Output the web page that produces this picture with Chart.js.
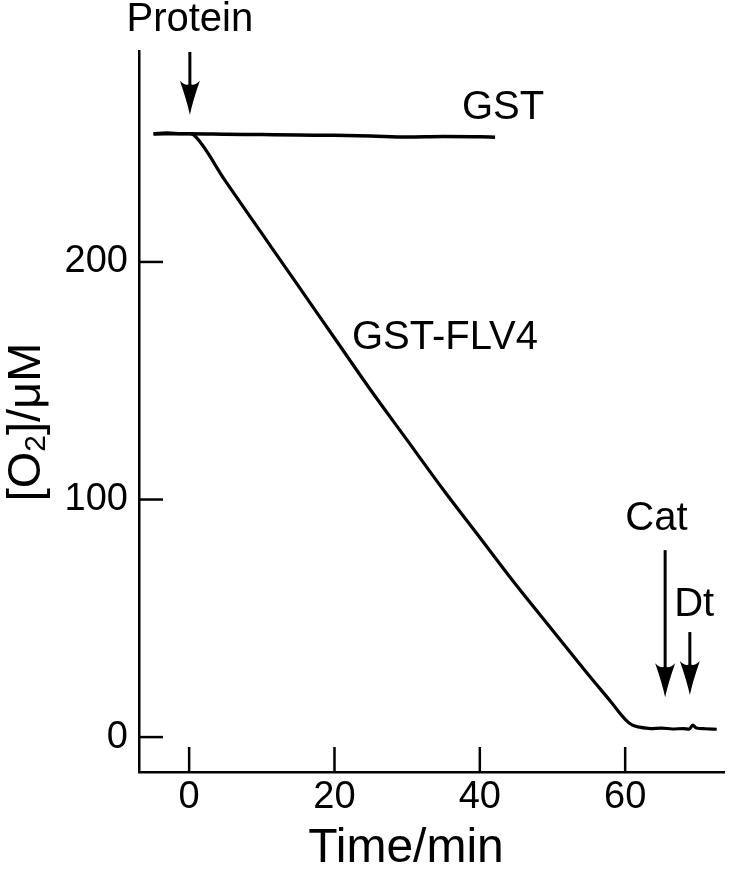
<!DOCTYPE html>
<html>
<head>
<meta charset="utf-8">
<script src="https://cdn.jsdelivr.net/npm/chart.js@4.4.0/dist/chart.umd.min.js"></script>
<style>
  html, body { margin: 0; padding: 0; background: #fff; }
  #wrap { width: 730px; height: 870px; }
</style>
</head>
<body>
<div id="wrap"><canvas id="o2Chart" width="730" height="870"></canvas></div>
<script>
// time in min, [O2] in uM
var flvTime = [-4.9, -3, -1, 0, 0.6, 5, 10, 15, 20, 25, 30, 35, 40, 45, 50, 55, 58, 60, 61, 62, 63.5, 65, 66.5, 68, 68.8, 69.3, 69.8, 71, 72.6];
var flvO2   = [254, 254.3, 254, 254, 253.5, 234, 212, 190, 168, 146, 125, 104, 84, 64, 45, 26, 15, 7.5, 5, 4.2, 3.6, 3.8, 3.4, 3.6, 3.3, 5.0, 3.8, 3.5, 3.3];

var gstTime = [-4.9, 0, 5, 10, 15, 20, 25, 30, 35, 40, 42.1];
var gstO2   = [253.9, 254, 253.8, 253.6, 253.4, 253.3, 253.0, 252.6, 252.8, 252.7, 252.5];

var xTicks = [0, 20, 40, 60];
var yTicks = [0, 100, 200];

// arrows: x, from y, to y (data units)
var arrows = [
  { x: 0.1,  y0: 288.4, y1: 262 },
  { x: 65.5, y0: 78.7,  y1: 16.8 },
  { x: 68.9, y0: 44.2,  y1: 17.7 }
];
var notes = [
  { text: "Protein",  x: 0.1,  y: 302,   align: "center" },
  { text: "GST",      x: 43.2, y: 265,   align: "center" },
  { text: "GST-FLV4", x: 22.4, y: 168,   align: "left" },
  { text: "Cat",      x: 64.3, y: 92,    align: "center" },
  { text: "Dt",       x: 69.5, y: 55.5,  align: "center" }
];

function pairs(xs, ys){
  return xs.map(function(x, i){ return {x: x, y: ys[i]}; });
}

var FONT = "'Liberation Sans', Arial, sans-serif";

var decor = {
  id: "decor",
  afterDraw: function(chart){
    var ctx = chart.ctx, xs = chart.scales.x, ys = chart.scales.y;
    ctx.save();
    ctx.strokeStyle = "#000";
    ctx.fillStyle = "#000";
    ctx.lineWidth = 2.5;
    // inward tick marks
    xTicks.forEach(function(t){
      var px = xs.getPixelForValue(t);
      ctx.beginPath(); ctx.moveTo(px, xs.top); ctx.lineTo(px, xs.top - 25); ctx.stroke();
    });
    yTicks.forEach(function(t){
      var py = ys.getPixelForValue(t);
      ctx.beginPath(); ctx.moveTo(ys.right, py); ctx.lineTo(ys.right + 24, py); ctx.stroke();
    });
    // arrows
    arrows.forEach(function(a){
      var px = xs.getPixelForValue(a.x), p0 = ys.getPixelForValue(a.y0), p1 = ys.getPixelForValue(a.y1);
      ctx.lineWidth = 3;
      ctx.beginPath(); ctx.moveTo(px, p0); ctx.lineTo(px, p1 - 25); ctx.stroke();
      ctx.beginPath();
      ctx.moveTo(px - 10, p1 - 34);
      ctx.quadraticCurveTo(px - 4, p1 - 28, px, p1 - 31);
      ctx.quadraticCurveTo(px + 4, p1 - 28, px + 10, p1 - 34);
      ctx.quadraticCurveTo(px + 3, p1 - 14, px, p1);
      ctx.quadraticCurveTo(px - 3, p1 - 14, px - 10, p1 - 34);
      ctx.closePath(); ctx.fill();
    });
    // labels
    ctx.font = "40px " + FONT;
    ctx.textBaseline = "middle";
    notes.forEach(function(n){
      ctx.textAlign = n.align;
      ctx.fillText(n.text, xs.getPixelForValue(n.x), ys.getPixelForValue(n.y));
    });
    // x title
    ctx.textAlign = "center";
    ctx.font = "48px " + FONT;
    ctx.fillText("Time/min", 406, 849);
    // y title with subscript
    ctx.translate(27, 422);
    ctx.rotate(-Math.PI / 2);
    ctx.textAlign = "left";
    var big = "47px " + FONT, small = "30px " + FONT;
    ctx.font = big;
    var w1 = ctx.measureText("[O").width, w3 = ctx.measureText("]/μM").width;
    ctx.font = small;
    var w2 = ctx.measureText("2").width;
    var x0 = -(w1 + w2 + w3) / 2;
    ctx.font = big; ctx.fillText("[O", x0, 0);
    ctx.font = small; ctx.fillText("2", x0 + w1, 10);
    ctx.font = big; ctx.fillText("]/μM", x0 + w1 + w2, 0);
    ctx.restore();
  }
};

var chart = new Chart(document.getElementById("o2Chart"), {
  type: "line",
  data: {
    datasets: [
      { label: "GST", data: pairs(gstTime, gstO2), borderColor: "#000", borderWidth: 3.5, pointRadius: 0, cubicInterpolationMode: "monotone" },
      { label: "GST-FLV4", data: pairs(flvTime, flvO2), borderColor: "#000", borderWidth: 3.2, pointRadius: 0, cubicInterpolationMode: "monotone" }
    ]
  },
  options: {
    responsive: false,
    animation: false,
    layout: { padding: { top: 51, right: 6, left: 0, bottom: 0 } },
    plugins: { legend: { display: false }, tooltip: { enabled: false } },
    scales: {
      x: {
        type: "linear", min: -6.9, max: 73.6,
        grid: { display: false, drawTicks: false },
        border: { display: true, color: "#000", width: 2.5 },
        afterBuildTicks: function(s){ s.ticks = xTicks.map(function(v){ return {value: v}; }); },
        afterFit: function(s){ s.height = 98; },
        ticks: { color: "#000", padding: 3, font: { family: FONT, size: 38 } }
      },
      y: {
        type: "linear", min: -14.7, max: 288.8,
        grid: { display: false, drawTicks: false },
        border: { display: true, color: "#000", width: 2.5 },
        afterBuildTicks: function(s){ s.ticks = yTicks.map(function(v){ return {value: v}; }); },
        afterFit: function(s){ s.width = 139; },
        ticks: { color: "#000", padding: 11, font: { family: FONT, size: 38 } }
      }
    }
  },
  plugins: [decor]
});
</script>
</body>
</html>
